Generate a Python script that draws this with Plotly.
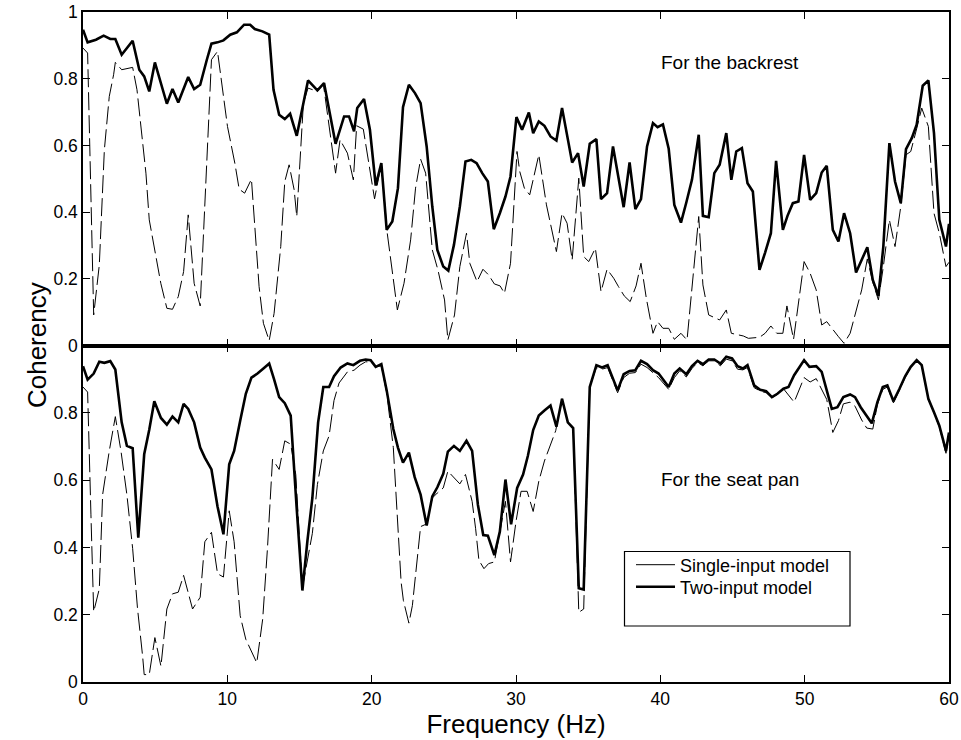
import plotly.graph_objects as go

# ---------------- data ----------------
back_two_f = [0, 0.32, 0.9, 1.43, 1.89, 2.24, 2.68, 3.44, 3.9, 4.24, 4.59, 4.98, 5.81, 6.2, 6.6, 7.29, 7.7, 8.12,
              8.58, 8.9, 9.32, 9.73, 10.2, 10.66, 11.16, 11.58, 11.9, 12.43, 12.9, 13.2, 13.59, 13.98, 14.35, 14.81,
              15.59, 16.24, 16.7, 17.5, 18.09, 18.43, 18.78, 19.0, 19.47, 19.88, 20.28, 20.67, 21.04, 21.43, 21.82,
              22.17, 22.58, 23.0, 23.39, 23.81, 24.2, 24.55, 24.96, 25.31, 25.7, 26.11, 26.5, 26.9, 27.27, 27.66,
              28.05, 28.46, 28.88, 29.27, 29.62, 30.03, 30.42, 30.89, 31.19, 31.58, 31.97, 32.39, 32.8, 33.19, 33.59,
              33.89, 34.3, 34.69, 35.11, 35.57, 35.89, 36.31, 36.72, 37.46, 37.87, 38.27, 38.66, 39.08, 39.49, 39.81,
              40.18, 40.58, 40.97, 41.43, 41.8, 42.19, 42.66, 42.95, 43.35, 43.74, 44.11, 44.57, 44.92, 45.26, 45.65,
              46.04, 46.41, 46.87, 47.26, 47.66, 48.02, 48.49, 48.81, 49.18, 49.57, 49.96, 50.38, 50.8, 51.18, 51.53,
              51.95, 52.34, 52.73, 53.15, 53.56, 53.95, 54.34, 54.72, 55.11, 55.45, 55.87, 56.26, 56.66, 57.02, 57.42,
              57.76, 58.18, 58.57, 58.96, 59.33, 59.79, 60]
back_two_c = [0.947, 0.909, 0.917, 0.929, 0.919, 0.919, 0.872, 0.914, 0.827, 0.807, 0.762, 0.849, 0.725, 0.769, 0.729,
              0.805, 0.769, 0.782, 0.857, 0.905, 0.909, 0.915, 0.932, 0.939, 0.962, 0.962, 0.949, 0.942, 0.932, 0.767,
              0.692, 0.679, 0.695, 0.629, 0.795, 0.765, 0.787, 0.605, 0.687, 0.687, 0.642, 0.712, 0.739, 0.647, 0.48,
              0.547, 0.347, 0.372, 0.472, 0.715, 0.782, 0.757, 0.727, 0.597, 0.417, 0.287, 0.237, 0.225, 0.302, 0.417,
              0.552, 0.557, 0.547, 0.517, 0.492, 0.349, 0.397, 0.447, 0.507, 0.685, 0.647, 0.699, 0.637, 0.672, 0.659,
              0.627, 0.615, 0.712, 0.619, 0.549, 0.577, 0.477, 0.605, 0.619, 0.439, 0.457, 0.597, 0.415, 0.549, 0.409,
              0.439, 0.597, 0.667, 0.655, 0.663, 0.59, 0.422, 0.369, 0.429, 0.497, 0.632, 0.389, 0.385, 0.517, 0.542,
              0.637, 0.497, 0.582, 0.592, 0.487, 0.462, 0.227, 0.279, 0.337, 0.554, 0.347, 0.389, 0.427, 0.432, 0.572,
              0.437, 0.457, 0.519, 0.539, 0.347, 0.312, 0.397, 0.337, 0.219, 0.259, 0.295, 0.197, 0.149, 0.297, 0.607,
              0.492, 0.427, 0.589, 0.622, 0.662, 0.779, 0.795, 0.637, 0.377, 0.297, 0.365]

back_single_f = [0, 0.32, 0.74, 1.13, 1.48, 1.82, 2.12, 2.24, 2.68, 3.44, 3.74, 4.01, 4.36, 4.59, 5.39, 5.81, 6.2, 6.6,
                 6.97, 7.29, 7.7, 8.12, 8.44, 8.9, 9.32, 10.01, 10.52, 10.82, 11.2, 11.67, 12.2, 12.5, 12.9, 13.24,
                 13.7, 13.98, 14.28, 14.63, 14.81, 15.27, 15.59, 16.24, 16.65, 17.5, 17.81, 18.32, 18.73, 18.96, 19.42,
                 20.2, 20.67, 21.08, 21.78, 22.24, 22.7, 23.04, 23.39, 23.74, 24.2, 24.59, 25.05, 25.28, 25.74, 26.11,
                 26.57, 26.8, 27.3, 27.71, 28.1, 28.5, 28.9, 29.2, 29.62, 30.07, 30.26, 30.58, 30.95, 31.58, 32.11,
                 32.8, 33.19, 33.54, 33.89, 34.35, 34.69, 35.04, 35.5, 35.89, 36.31, 36.77, 37.1, 37.5, 37.91, 38.32,
                 38.66, 39.03, 39.49, 39.81, 40.18, 40.58, 40.97, 41.43, 41.85, 42.66, 42.95, 43.35, 44.11, 44.57,
                 44.92, 45.75, 46.1, 46.87, 47.26, 47.66, 48.07, 48.49, 48.77, 49.23, 49.96, 50.38, 50.8, 51.18, 51.53,
                 51.95, 52.34, 52.73, 53.15, 53.95, 54.34, 54.72, 55.11, 55.45, 55.87, 56.26, 56.66, 57.02, 57.35,
                 57.76, 58.11, 58.57, 58.96, 59.33, 59.79, 60]
back_single_c = [0.892, 0.877, 0.092, 0.242, 0.587, 0.747, 0.812, 0.849, 0.827, 0.834, 0.767, 0.657, 0.517, 0.377,
                 0.187, 0.112, 0.109, 0.147, 0.222, 0.392, 0.187, 0.119, 0.437, 0.857, 0.882, 0.657, 0.547, 0.469,
                 0.457, 0.499, 0.177, 0.067, 0.015, 0.097, 0.297, 0.492, 0.542, 0.467, 0.387, 0.727, 0.772, 0.762,
                 0.785, 0.517, 0.617, 0.577, 0.497, 0.659, 0.649, 0.44, 0.545, 0.337, 0.107, 0.187, 0.317, 0.472, 0.559,
                 0.517, 0.287, 0.227, 0.137, 0.017, 0.092, 0.237, 0.337, 0.247, 0.192, 0.229, 0.212, 0.185, 0.179,
                 0.157, 0.247, 0.582, 0.522, 0.472, 0.452, 0.572, 0.422, 0.282, 0.397, 0.367, 0.257, 0.502, 0.267,
                 0.252, 0.292, 0.162, 0.229, 0.202, 0.177, 0.149, 0.132, 0.179, 0.247, 0.142, 0.037, 0.072, 0.052,
                 0.052, 0.019, 0.037, 0.017, 0.387, 0.182, 0.092, 0.077, 0.107, 0.037, 0.029, 0.022, 0.025, 0.037,
                 0.059, 0.037, 0.037, 0.119, 0.019, 0.252, 0.217, 0.167, 0.062, 0.072, 0.047, 0.027, 0.007, 0.037,
                 0.167, 0.26, 0.19, 0.137, 0.237, 0.377, 0.297, 0.417, 0.572, 0.582, 0.65, 0.712, 0.657, 0.397, 0.337,
                 0.237, 0.25]

seat_two_f = [0, 0.32, 0.74, 1.13, 1.48, 1.89, 2.24, 2.68, 3.04, 3.44, 3.83, 4.24, 4.59, 4.94, 5.4, 5.81, 6.2, 6.6,
              6.97, 7.29, 7.7, 8.12, 8.44, 8.9, 9.32, 9.73, 10.13, 10.47, 10.89, 11.28, 11.67, 12.09, 12.5, 12.9,
              13.24, 13.59, 13.98, 14.39, 14.8, 15.2, 15.55, 15.89, 16.29, 16.65, 17.05, 17.39, 17.85, 18.32, 18.73,
              19.19, 19.58, 19.93, 20.28, 20.67, 21.04, 21.5, 21.82, 22.17, 22.58, 22.98, 23.39, 23.81, 24.2, 24.55,
              24.96, 25.28, 25.7, 26.11, 26.57, 26.96, 27.36, 27.73, 28.05, 28.5, 28.88, 29.27, 29.66, 30.08, 30.49,
              30.82, 31.19, 31.58, 31.97, 32.39, 32.8, 33.19, 33.59, 33.96, 34.35, 34.69, 35.11, 35.57, 35.96, 36.35,
              37.04, 37.46, 37.87, 38.27, 38.66, 39.08, 39.49, 39.88, 40.58, 40.97, 41.34, 41.8, 42.19, 42.58, 42.95,
              43.35, 43.74, 44.16, 44.57, 44.97, 45.35, 45.72, 46.04, 46.5, 46.92, 47.33, 47.73, 48.11, 48.53, 48.88,
              49.27, 49.64, 49.96, 50.33, 50.8, 51.18, 51.53, 51.88, 52.27, 52.68, 53.15, 53.49, 53.88, 54.3, 54.65,
              55.04, 55.41, 55.73, 56.15, 56.57, 56.96, 57.35, 57.76, 58.11, 58.57, 58.96, 59.33, 59.79, 60]
seat_two_c = [0.939, 0.899, 0.917, 0.952, 0.949, 0.954, 0.929, 0.772, 0.702, 0.695, 0.429, 0.677, 0.75, 0.835, 0.785,
              0.765, 0.789, 0.772, 0.827, 0.812, 0.772, 0.697, 0.667, 0.632, 0.522, 0.439, 0.647, 0.687, 0.777, 0.857,
              0.905, 0.917, 0.932, 0.947, 0.9, 0.847, 0.829, 0.792, 0.52, 0.272, 0.42, 0.547, 0.772, 0.877, 0.877,
              0.909, 0.935, 0.947, 0.942, 0.955, 0.959, 0.957, 0.937, 0.945, 0.867, 0.752, 0.697, 0.652, 0.682, 0.609,
              0.557, 0.465, 0.552, 0.579, 0.619, 0.685, 0.702, 0.687, 0.717, 0.687, 0.527, 0.437, 0.435, 0.377, 0.447,
              0.602, 0.469, 0.577, 0.617, 0.672, 0.749, 0.792, 0.807, 0.822, 0.759, 0.842, 0.772, 0.755, 0.279, 0.275,
              0.877, 0.942, 0.935, 0.942, 0.867, 0.915, 0.925, 0.927, 0.955, 0.945, 0.927, 0.917, 0.877, 0.917, 0.932,
              0.915, 0.939, 0.955, 0.945, 0.959, 0.959, 0.947, 0.967, 0.962, 0.939, 0.932, 0.942, 0.882, 0.869, 0.865,
              0.847, 0.857, 0.872, 0.877, 0.912, 0.937, 0.957, 0.937, 0.939, 0.922, 0.867, 0.812, 0.817, 0.847, 0.855,
              0.847, 0.817, 0.792, 0.769, 0.832, 0.877, 0.882, 0.835, 0.872, 0.909, 0.937, 0.957, 0.942, 0.842, 0.802,
              0.762, 0.687, 0.742]

seat_single_f = [0, 0.32, 0.55, 0.74, 1.13, 1.36, 1.82, 2.24, 2.63, 3.04, 3.44, 3.78, 4.13, 4.24, 4.59, 4.98, 5.4,
                 5.81, 6.2, 6.6, 6.97, 7.59, 8.12, 8.44, 8.9, 9.32, 9.73, 10.13, 10.47, 10.89, 11.28, 12.04, 12.45,
                 12.78, 13.13, 13.59, 13.98, 14.39, 14.74, 15.2, 15.89, 16.24, 16.65, 17.05, 17.39, 17.74, 18.32, 18.78,
                 19.19, 19.58, 19.93, 20.28, 20.67, 21.04, 21.5, 22.04, 22.2, 22.58, 22.82, 23.16, 23.39, 23.81, 24.2,
                 24.55, 24.96, 25.28, 25.7, 26.11, 26.5, 26.96, 27.2, 27.43, 27.78, 28.1, 28.5, 28.88, 29.27, 29.62,
                 30.0, 30.35, 30.77, 31.19, 31.58, 31.97, 32.39, 32.75, 33.19, 33.59, 33.96, 34.35, 34.69, 35.11, 35.57,
                 35.96, 36.35, 37.04, 37.46, 37.87, 38.27, 38.66, 39.08, 39.49, 39.88, 40.58, 40.97, 41.34, 41.8, 42.19,
                 42.58, 42.95, 43.35, 43.74, 44.16, 44.57, 44.97, 45.35, 45.72, 46.04, 46.5, 46.92, 47.33, 47.73, 48.11,
                 48.53, 49.27, 49.96, 50.38, 50.8, 51.18, 51.53, 51.95, 52.34, 52.68, 53.15, 53.49, 53.95, 54.3, 54.72,
                 55.04, 55.41, 55.73, 56.15, 56.57, 56.96, 57.35, 57.76, 58.11, 58.57, 58.96, 59.33, 59.79, 60]
seat_single_c = [0.877, 0.862, 0.497, 0.209, 0.277, 0.557, 0.687, 0.789, 0.687, 0.557, 0.397, 0.217, 0.077, 0.022,
                 0.022, 0.132, 0.047, 0.217, 0.262, 0.267, 0.317, 0.217, 0.252, 0.417, 0.445, 0.322, 0.312, 0.509,
                 0.417, 0.197, 0.127, 0.057, 0.187, 0.397, 0.662, 0.632, 0.717, 0.707, 0.617, 0.28, 0.442, 0.587,
                 0.687, 0.732, 0.837, 0.889, 0.922, 0.927, 0.942, 0.952, 0.952, 0.937, 0.94, 0.86, 0.697, 0.297, 0.242,
                 0.175, 0.227, 0.367, 0.462, 0.47, 0.547, 0.562, 0.577, 0.627, 0.607, 0.589, 0.617, 0.537, 0.457,
                 0.362, 0.337, 0.352, 0.357, 0.442, 0.537, 0.357, 0.477, 0.567, 0.567, 0.507, 0.597, 0.657, 0.707,
                 0.747, 0.842, 0.772, 0.755, 0.207, 0.217, 0.877, 0.935, 0.93, 0.935, 0.86, 0.905, 0.918, 0.92, 0.945,
                 0.935, 0.92, 0.905, 0.87, 0.905, 0.925, 0.907, 0.932, 0.95, 0.94, 0.955, 0.955, 0.94, 0.96, 0.955,
                 0.93, 0.928, 0.935, 0.875, 0.865, 0.86, 0.845, 0.855, 0.872, 0.832, 0.905, 0.892, 0.902, 0.872, 0.84,
                 0.742, 0.777, 0.827, 0.832, 0.82, 0.779, 0.755, 0.752, 0.825, 0.87, 0.877, 0.83, 0.868, 0.905, 0.935,
                 0.955, 0.94, 0.84, 0.8, 0.758, 0.68, 0.735]

x_ticks = [0, 10, 20, 30, 40, 50, 60]
y_ticks = [0, 0.2, 0.4, 0.6, 0.8, 1]
y_top_labels = ["0", "0.2", "0.4", "0.6", "0.8", "1"]
y_bot_labels = ["0", "0.2", "0.4", "0.6", "0.8", ""]

FONT = "Liberation Sans, Arial, sans-serif"
THIN = dict(color="black", width=1, dash="18px,5px")
THICK = dict(color="black", width=2.6)
TICKFONT = dict(size=17.5, color="black", family=FONT)

fig = go.Figure()
fig.add_trace(go.Scatter(x=back_single_f, y=back_single_c, mode="lines", line=THIN,
                         showlegend=False, xaxis="x", yaxis="y"))
fig.add_trace(go.Scatter(x=back_two_f, y=back_two_c, mode="lines", line=THICK,
                         showlegend=False, xaxis="x", yaxis="y"))
fig.add_trace(go.Scatter(x=seat_single_f, y=seat_single_c, mode="lines", line=THIN,
                         showlegend=False, xaxis="x2", yaxis="y2"))
fig.add_trace(go.Scatter(x=seat_two_f, y=seat_two_c, mode="lines", line=THICK,
                         showlegend=False, xaxis="x2", yaxis="y2"))
# legend entries (one legend each, to control row spacing)
fig.add_trace(go.Scatter(x=[None], y=[None], mode="lines", name="Single-input model",
                         line=dict(color="black", width=1), xaxis="x2", yaxis="y2", legend="legend"))
fig.add_trace(go.Scatter(x=[None], y=[None], mode="lines", name="Two-input model",
                         line=dict(color="black", width=2.6), xaxis="x2", yaxis="y2", legend="legend2"))

axis_common = dict(range=[0, 60], tickvals=x_ticks, ticks="inside", ticklen=7, tickcolor="black",
                   showline=True, linecolor="black", linewidth=1.5, mirror="allticks", automargin=False,
                   showgrid=False, zeroline=False, tickfont=TICKFONT)
yaxis_common = dict(range=[0, 1], tickvals=y_ticks, ticks="inside", ticklen=7, tickcolor="black",
                    showline=True, linecolor="black", linewidth=1.5, mirror="allticks", automargin=False,
                    showgrid=False, zeroline=False, tickfont=TICKFONT)

legend_common = dict(xanchor="left", yanchor="middle", bgcolor="rgba(0,0,0,0)", borderwidth=0,
                     itemwidth=39, font=dict(size=18, family=FONT, color="black"))

fig.update_layout(
    width=961, height=740,
    margin=dict(l=83, r=12, t=12, b=58, autoexpand=False),
    paper_bgcolor="white", plot_bgcolor="white",
    font=dict(family=FONT, color="black"),
    xaxis=dict(axis_common, anchor="y", showticklabels=False),
    yaxis=dict(yaxis_common, domain=[0.502, 1], anchor="x", ticktext=y_top_labels),
    xaxis2=dict(axis_common, anchor="y2",
                title=dict(text="Frequency (Hz)", font=dict(size=26, family=FONT), standoff=2)),
    yaxis2=dict(yaxis_common, domain=[0, 0.502], anchor="x2", ticktext=y_bot_labels),
    legend=dict(legend_common, x=(631 - 83) / 866, y=(682 - 565) / 670),
    legend2=dict(legend_common, x=(631 - 83) / 866, y=(682 - 587) / 670),
    annotations=[
        dict(text="For the backrest", x=44.8, y=0.848, xref="x", yref="y", showarrow=False,
             font=dict(size=19, family=FONT)),
        dict(text="For the seat pan", x=44.8, y=0.602, xref="x2", yref="y2", showarrow=False,
             font=dict(size=19, family=FONT)),
        dict(text="Coherency", x=-0.0727, y=0.503, xref="paper", yref="paper", showarrow=False,
             textangle=-90, font=dict(size=26, family=FONT)),
    ],
    shapes=[
        dict(type="rect", xref="paper", yref="paper", x0=(624.5 - 83) / 866, x1=(850 - 83) / 866,
             y0=(682 - 626) / 670, y1=(682 - 551.5) / 670,
             line=dict(color="black", width=1.2), fillcolor="rgba(0,0,0,0)"),
    ],
)

fig.write_html("out.html")
